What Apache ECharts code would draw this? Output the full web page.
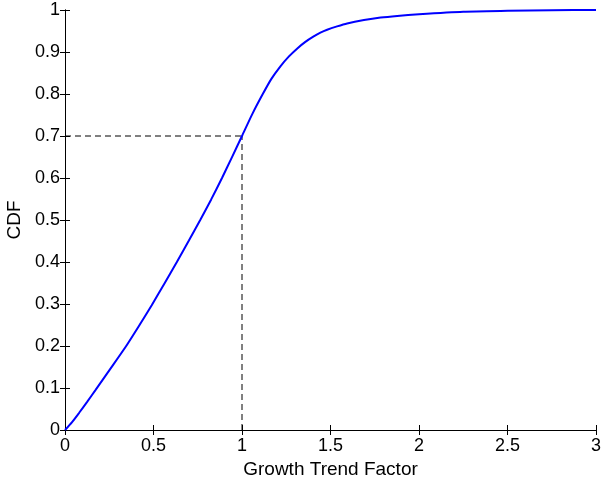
<!DOCTYPE html>
<html>
<head>
<meta charset="utf-8">
<script src="https://cdn.jsdelivr.net/npm/echarts@6/dist/echarts.min.js"></script>
<style>html,body{margin:0;padding:0;background:#fff}#c{width:602px;height:478px}</style>
</head>
<body>
<div id="c"></div>
<script>
var cdfX = [0, 0.04, 0.08, 0.125, 0.172, 0.255, 0.341, 0.415, 0.49, 0.562, 0.632, 0.7, 0.764, 0.826, 0.887, 0.945, 1.0, 1.058, 1.115, 1.166, 1.217, 1.264, 1.311, 1.358, 1.405, 1.443, 1.481, 1.537, 1.594, 1.689, 1.783, 1.877, 2.0, 2.25, 2.5, 2.75, 3.0];
var cdfY = [0, 0.019, 0.041, 0.067, 0.095, 0.145, 0.197, 0.246, 0.297, 0.349, 0.4, 0.451, 0.5, 0.549, 0.6, 0.651, 0.7, 0.752, 0.798, 0.836, 0.866, 0.889, 0.908, 0.924, 0.937, 0.946, 0.953, 0.961, 0.968, 0.976, 0.982, 0.986, 0.99, 0.996, 0.998, 0.9995, 1.0];
var guideHX = [0, 1];
var guideHY = [0.7, 0.7];
var guideVX = [1, 1];
var guideVY = [0, 0.7];
var xTicks = [0, 0.5, 1, 1.5, 2, 2.5, 3];
var yTicks = [0, 0.1, 0.2, 0.3, 0.4, 0.5, 0.6, 0.7, 0.8, 0.9, 1];

function pairs(xs, ys) { return xs.map(function (x, i) { return [x, ys[i]]; }); }
function fmt(v) { return String(Math.round(v * 10) / 10); }

var font = 'Liberation Sans, Arial, Helvetica, sans-serif';
var axLine = { show: true, lineStyle: { color: '#000', width: 1 } };
var tick = { show: true, inside: true, length: 5, lineStyle: { color: '#000', width: 1 } };
var lbl = { color: '#000', fontSize: 18, fontFamily: font };

var chart = echarts.init(document.getElementById('c'), null, { renderer: 'canvas' });
chart.setOption({
  animation: false,
  backgroundColor: '#fff',
  grid: { left: 65, right: 6, top: 10, bottom: 48, containLabel: false, outerBoundsMode: 'none' },
  xAxis: [
    { type: 'value', min: xTicks[0], max: xTicks[xTicks.length - 1], interval: 0.5, position: 'bottom',
      axisLine: axLine, axisTick: tick, splitLine: { show: false },
      axisLabel: Object.assign({ margin: 7, formatter: fmt, showMinLabel: true, showMaxLabel: true }, lbl),
      name: 'Growth Trend Factor', nameLocation: 'middle', nameGap: 30,
      nameTextStyle: { color: '#000', fontSize: 19, fontFamily: font } },
    { type: 'value', min: xTicks[0], max: xTicks[xTicks.length - 1], interval: 0.5, position: 'top',
      axisLine: axLine, axisTick: tick, axisLabel: { show: false }, splitLine: { show: false } }
  ],
  yAxis: [
    { type: 'value', min: yTicks[0], max: yTicks[yTicks.length - 1], interval: 0.1, position: 'left',
      axisLine: axLine, axisTick: tick, splitLine: { show: false },
      axisLabel: Object.assign({ margin: 5, formatter: fmt }, lbl),
      name: 'CDF', nameLocation: 'middle', nameGap: 38, nameRotate: 90,
      nameTextStyle: { color: '#000', fontSize: 19, fontFamily: font } },
    { type: 'value', min: yTicks[0], max: yTicks[yTicks.length - 1], interval: 0.1, position: 'right',
      axisLine: axLine, axisTick: tick, axisLabel: { show: false }, splitLine: { show: false } }
  ],
  series: [
    { type: 'line', data: pairs(guideHX, guideHY), symbol: 'none', silent: true,
      lineStyle: { color: '#000', width: 1, type: [6, 4] } },
    { type: 'line', data: pairs(guideVX, guideVY), symbol: 'none', silent: true,
      lineStyle: { color: '#000', width: 1, type: [6, 4] } },
    { type: 'line', data: pairs(cdfX, cdfY), symbol: 'none', smooth: 0.2, silent: true,
      lineStyle: { color: '#0000ff', width: 2 } }
  ]
});
</script>
</body>
</html>
